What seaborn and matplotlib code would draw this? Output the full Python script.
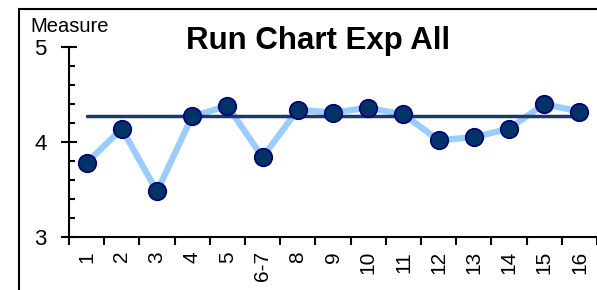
import numpy as np
import pandas as pd
import matplotlib
matplotlib.use("Agg")
import matplotlib.pyplot as plt
from matplotlib.patches import Rectangle
from matplotlib.ticker import MultipleLocator, FixedLocator
import seaborn as sns

categories = ['1', '2', '3', '4', '5', '6-7', '8', '9', '10', '11', '12', '13', '14', '15', '16']
measure = [3.78, 4.14, 3.48, 4.27, 4.38, 3.84, 4.34, 4.31, 4.36, 4.29, 4.02, 4.05, 4.14, 4.40, 4.32]
mean_value = 4.27

sns.set_style('white')
plt.rcParams['font.family'] = ['Liberation Sans', 'DejaVu Sans']
plt.rcParams['text.color'] = 'black'
plt.rcParams['xtick.color'] = 'black'
plt.rcParams['ytick.color'] = 'black'

df = pd.DataFrame({'pos': np.arange(len(categories)), 'category': categories, 'measure': measure})

fig = plt.figure(figsize=(5.97, 2.90), dpi=100)
ax = fig.add_axes([69 / 597, 53 / 290, 528 / 597, 190 / 290])

sns.lineplot(data=df, x='pos', y='measure', color='#99CCFF', linewidth=4.5, ax=ax, zorder=2)
sns.scatterplot(data=df, x='pos', y='measure', color='#003366', edgecolor='#000080',
                s=160, linewidth=1.2, ax=ax, zorder=4)
ax.plot([df['pos'].iloc[0], df['pos'].iloc[-1] + 0.15], [mean_value, mean_value],
        color='#1F3864', linewidth=2.5, zorder=3)

ax.set_xlim(-0.5, len(categories) - 0.5)
ax.set_ylim(3, 5)

ax.xaxis.set_major_locator(FixedLocator(np.arange(-0.5, len(categories), 1.0)))
ax.xaxis.set_minor_locator(FixedLocator(df['pos']))
ax.set_xticklabels([], minor=False)
ax.set_xticklabels(categories, minor=True, rotation=90, fontsize=15)
ax.tick_params(axis='x', which='major', direction='out', length=6, width=1.5, bottom=True)
ax.tick_params(axis='x', which='minor', length=0, pad=10, bottom=True)

ax.set_yticks([3, 4, 5])
ax.yaxis.set_minor_locator(MultipleLocator(0.2))
ax.set_yticklabels(['3', '4', '5'], fontsize=16)
ax.tick_params(axis='y', which='major', direction='inout', length=12, width=1.5, pad=10, left=True)
ax.tick_params(axis='y', which='minor', direction='in', length=4, width=1.5, left=True)

ax.spines['top'].set_visible(False)
ax.spines['right'].set_visible(False)
ax.spines['left'].set_linewidth(1.5)
ax.spines['bottom'].set_linewidth(1.5)
ax.spines['left'].set_color('black')
ax.spines['bottom'].set_color('black')
ax.set_xlabel('')
ax.set_ylabel('')

fig.text(30 / 597, 1 - 26 / 290, 'Measure', fontsize=14.5, ha='left', va='center')
fig.text(318 / 597, 1 - 41 / 290, 'Run Chart Exp All', fontsize=22.5, fontweight='bold',
         ha='center', va='center')

fig.patches.append(Rectangle((19 / 597, -0.1), 1.2, 1 - 9 / 290 + 0.1, transform=fig.transFigure,
                             fill=False, edgecolor='black', linewidth=1.5))

fig.savefig('out.png', dpi=100)
